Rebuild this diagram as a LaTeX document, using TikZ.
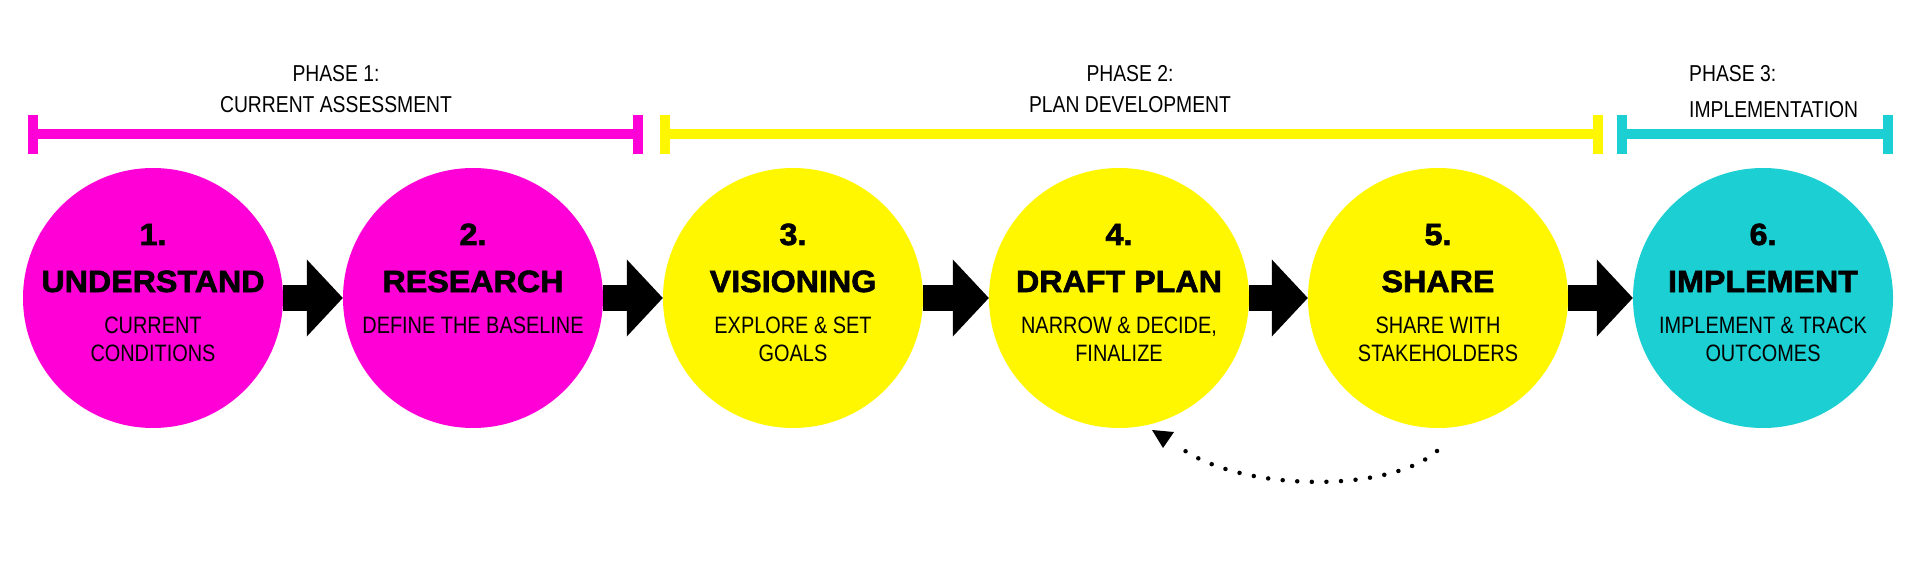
\documentclass[tikz,border=0pt]{standalone}
\usepackage{fontspec}
\usetikzlibrary{arrows.meta,calc}
\setmainfont{Liberation Sans}
\newfontfamily\condfont[FakeStretch=0.84]{Liberation Sans}
\newfontfamily\heavyfont[FakeStretch=1.05,RawFeature={embolden=2}]{Liberation Sans Bold}
\definecolor{pmag}{HTML}{FF00D6}
\definecolor{pyel}{HTML}{FFF700}
\definecolor{pcyan}{HTML}{1BCFD3}
\begin{document}
\begin{tikzpicture}[x=1pt,y=-1pt,
  stage/.style={circle, minimum size=260pt, inner sep=0pt, draw=none},
  numtxt/.style={anchor=base, inner sep=0pt, font=\heavyfont\fontsize{30.7}{32}\selectfont},
  titletxt/.style={anchor=base, inner sep=0pt, font=\heavyfont\fontsize{30.7}{32}\selectfont},
  subtxt/.style={anchor=base, inner sep=0pt, font=\condfont\fontsize{23.7}{28}\selectfont},
  phasetxt/.style={anchor=base, inner sep=0pt, font=\condfont\fontsize{23}{28}\selectfont},
  bigarrow/.style={line width=26pt, -{Triangle[length=36pt,width=77pt,line width=0pt]}},
  phasebar/.style={line width=10pt},
  dotline/.style={line width=4.5pt, line cap=round, dash pattern=on 0pt off 14.6pt}
]
\useasboundingbox (0,0) rectangle (1919,577);
\fill[white] (0,0) rectangle (1919,577);

% phase bars
\draw[phasebar, pmag] (33,134) -- (638,134);
\draw[phasebar, pmag] (33,115) -- (33,154);
\draw[phasebar, pmag] (638,115) -- (638,154);
\draw[phasebar, pyel] (665,134) -- (1598,134);
\draw[phasebar, pyel] (665,115) -- (665,154);
\draw[phasebar, pyel] (1598,115) -- (1598,154);
\draw[phasebar, pcyan] (1622,134) -- (1888,134);
\draw[phasebar, pcyan] (1622,115) -- (1622,154);
\draw[phasebar, pcyan] (1888,115) -- (1888,154);

% phase labels
\node[phasetxt] (p1a) at (336,81.5) {PHASE 1:};
\node[phasetxt] (p1b) at (336,112.5) {CURRENT ASSESSMENT};
\node[phasetxt] (p2a) at (1130,81.5) {PHASE 2:};
\node[phasetxt] (p2b) at (1130,112.5) {PLAN DEVELOPMENT};
\node[phasetxt, anchor=base west] (p3a) at (1689,82) {PHASE 3:};
\node[phasetxt, anchor=base west] (p3b) at (1689,118) {IMPLEMENTATION};

% stages
\node[stage, fill=pmag] (c1) at (153,298) {};
\node[stage, fill=pmag] (c2) at (473,298) {};
\node[stage, fill=pyel] (c3) at (793,298) {};
\node[stage, fill=pyel] (c4) at (1119,298) {};
\node[stage, fill=pyel] (c5) at (1438,298) {};
\node[stage, fill=pcyan] (c6) at (1763,298) {};

\node[numtxt] (n1) at ($(c1)+(0,-53)$) {1.};
\node[titletxt] (t1) at ($(c1)+(0,-6)$) {UNDERSTAND};
\node[subtxt] (s1a) at ($(c1)+(0,35.5)$) {CURRENT};
\node[subtxt] (s1b) at ($(c1)+(0,63.5)$) {CONDITIONS};

\node[numtxt] (n2) at ($(c2)+(0,-53)$) {2.};
\node[titletxt] (t2) at ($(c2)+(0,-6)$) {RESEARCH};
\node[subtxt] (s2a) at ($(c2)+(0,35.5)$) {DEFINE THE BASELINE};

\node[numtxt] (n3) at ($(c3)+(0,-53)$) {3.};
\node[titletxt] (t3) at ($(c3)+(0,-6)$) {VISIONING};
\node[subtxt] (s3a) at ($(c3)+(0,35.5)$) {EXPLORE \& SET};
\node[subtxt] (s3b) at ($(c3)+(0,63.5)$) {GOALS};

\node[numtxt] (n4) at ($(c4)+(0,-53)$) {4.};
\node[titletxt] (t4) at ($(c4)+(0,-6)$) {DRAFT PLAN};
\node[subtxt] (s4a) at ($(c4)+(0,35.5)$) {NARROW \& DECIDE,};
\node[subtxt] (s4b) at ($(c4)+(0,63.5)$) {FINALIZE};

\node[numtxt] (n5) at ($(c5)+(0,-53)$) {5.};
\node[titletxt] (t5) at ($(c5)+(0,-6)$) {SHARE};
\node[subtxt] (s5a) at ($(c5)+(0,35.5)$) {SHARE WITH};
\node[subtxt] (s5b) at ($(c5)+(0,63.5)$) {STAKEHOLDERS};

\node[numtxt] (n6) at ($(c6)+(0,-53)$) {6.};
\node[titletxt] (t6) at ($(c6)+(0,-6)$) {IMPLEMENT};
\node[subtxt] (s6a) at ($(c6)+(0,35.5)$) {IMPLEMENT \& TRACK};
\node[subtxt] (s6b) at ($(c6)+(0,63.5)$) {OUTCOMES};

% arrows
\draw[bigarrow] (c1) -- (c2);
\draw[bigarrow] (c2) -- (c3);
\draw[bigarrow] (c3) -- (c4);
\draw[bigarrow] (c4) -- (c5);
\draw[bigarrow] (c5) -- (c6);

% feedback dotted arrow
\coordinate (d5) at (1437,451);
\coordinate (d4) at (1178,446);
\draw[dotline] (d5) .. controls (1390,493) and (1240,493) .. (d4);
\fill (1152,430) -- (1174,432) -- (1163,448) -- cycle;
\end{tikzpicture}
\end{document}
